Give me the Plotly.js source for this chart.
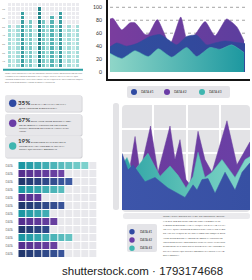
<!DOCTYPE html>
<html><head><meta charset="utf-8">
<script src="https://cdn.plot.ly/plotly-3.0.1.min.js"></script>
<style>html,body{margin:0;padding:0;background:#fff}#chart{width:252px;height:280px}</style>
</head><body><div id="chart"></div>
<script>
// ---------------- DATA ----------------
const gridColumns = [0,1,2,3,4,5,6,7,8,9,10,11,12,13,14,15,16];
const gridRows = [0,1,2,3,4,5,6,7,8,9,10,11,12,13,14];
const gridHeights = [10,9,10,13,10,11,9,14,11,10,12,10,13,9,10,9,10];
const gridTickVals = [1,3,5,7,9,11,13];
const gridTickText = ['10','20','30','40','50','60','70'];

const seriesNames = ['DATA #1','DATA #2','DATA #3'];

// top-right area chart (DATA #1 blue, DATA #2 purple, DATA #3 teal)
const areaX1 = [0,5,12.3,19.8,29.6,37,43.2,49.4,56.8,64.2,71.6,77.8,85.2,92.6,100];
const areaY1 = [39,45,40,44,55,58,50,42,55,57,42,45,48,46,44];
const areaX2 = [0,2.2,8.7,14.8,18.5,25.9,28.4,35.0,44.4,52.4,57.3,63.0,70.4,77.8,86.4,93.9,99.3];
const areaY2 = [82,83,65,76,76,58,58,81,43,85,49,58,78,56,82,70,48];
const areaX3 = [0,8.7,18.5,28.4,35.8,45.7,56.8,64.2,74.1,81.5,90.1,99.3];
const areaY3 = [29,21,33,24,36,23,38,24,38,35,42,30];
const areaTicks = [0,20,40,60,80,100];

// middle-right spiky chart
const spikeX1 = [0,4.7,8.6,18,25.8,35.9,49.2,55.5,58.6,62.5,67.2,72.7,80.5,88.3,93.8,100];
const spikeY1 = [54,38,43,27,31,21,12,24,19,29,30,16,36,19,36,45];
const spikeX2 = [0,5.5,10.2,14.1,22.3,28.1,37.5,41.4,45.3,50,53.1,59.4,64.8,70.3,82,89.8,100];
const spikeY2 = [48,36,70,36,80,36,80,48,67,29,24,75,48,36,85,43,65];
const spikeX3 = [0,3.9,8.6,20.3,29.7,37.5,43.8,50,55.5,59.4,64.8,70.3,78.1,88.3,96.1,100];
const spikeY3 = [43,50,36,54,32,42,33,21,32,55,31,36,48,31,48,51];

// bottom-left horizontal cell bars
const barLabels = ['DATA','DATA','DATA','DATA','DATA','DATA','DATA','DATA','DATA','DATA','DATA','DATA'];
const barSeries = [2,1,0,2,1,0,2,1,0,2,1,0]; // 0 = DATA #1 navy, 1 = DATA #2 purple, 2 = DATA #3 teal
const barLengths = [9,6,7,6,3,6,4,5,4,7,5,6];
const barSteps = [0,1,2,3,4,5,6,7,8,9];

// info boxes
const infoPercents = ['35%','67%','19%'];
const infoFirstLines = ['UT ENIM AD MINIM VENIAM,','DUIS AUTE IRURE DOLOR IN REP-','EXCEPTEUR SINT OCCAECAT'];
const infoMoreLines = [
  ['QUIS NOSTRUD EXERCITATION'],
  ['REHENDERIT IN VOLUPTATE VELIT ESSE','CILLUM DOLORE EU FUGIAT NULLA PARI-','ATUR.'],
  ['CUPIDATAT NON PROIDENT, SUNT IN','CULPA QUI OFFICIA DESERUNT']
];
const topLorem = [
  'LOREM IPSUM DOLOR SIT AMET, CONSECTETUR ADIPISCING ELIT, SED DO EIUSMOD TEMPOR',
  'INCIDIDUNT UT LABORE ET DOLORE MAGNA ALIQUA. UT ENIM AD MINIM VENIAM, QUIS',
  'NOSTRUD EXERCITATION ULLAMCO LABORIS NISI UT ALIQUIP EX EA COMMODO CONSEQUAT.',
  'DUIS AUTE IRURE DOLOR IN REPREHENDERIT IN VOLUPTATE'
];
const bottomLorem = [
  'LOREM IPSUM DOLOR SIT AMET, CONSECTETUR ADIPISC-',
  'ING ELIT, SED DO EIUSMOD TEMPOR INCIDIDUNT UT',
  'LABORE ET DOLORE MAGNA ALIQUA. UT ENIM AD MINIM',
  'VENIAM, QUIS NOSTRUD EXERCITATION ULLAMCO LABO-',
  'RIS NISI UT ALIQUIP EX EA COMMODO CONSEQUAT. DUIS',
  'AUTE IRURE DOLOR IN REPREHENDERIT IN VOLUPTATE',
  'VELIT ESSE CILLUM DOLORE EU FUGIAT NULLA PARIATUR.',
  'EXCEPTEUR SINT OCCAECAT CUPIDATAT NON PROIDENT,',
  'SUNT IN CULPA QUI OFFICIA DESERUNT MOLLIT ANIM ID',
  'EST LABORUM.'
];
const watermark = 'shutterstock.com · 1793174668';

// ---------------- STYLE / HELPERS ----------------
const W = 252, H = 280;
const X = p => p / W, Y = p => 1 - p / H;
const BLUE = '#2f4aa2', PURPLE = '#6a3ca6', TEAL = '#3fb6b0';
const seriesColors = [BLUE, PURPLE, TEAL];

function hex2rgb(h){return [1,3,5].map(i=>parseInt(h.substr(i,2),16));}
function mix(a,b,t){const A=hex2rgb(a),B=hex2rgb(b);return 'rgb('+A.map((v,i)=>Math.round(v+(B[i]-v)*t)).join(',')+')';}

function rr(x0,y0,x1,y1,r,fill,layer){
  const p = `M ${X(x0+r)},${Y(y0)} L ${X(x1-r)},${Y(y0)} Q ${X(x1)},${Y(y0)} ${X(x1)},${Y(y0+r)} L ${X(x1)},${Y(y1-r)} Q ${X(x1)},${Y(y1)} ${X(x1-r)},${Y(y1)} L ${X(x0+r)},${Y(y1)} Q ${X(x0)},${Y(y1)} ${X(x0)},${Y(y1-r)} L ${X(x0)},${Y(y0+r)} Q ${X(x0)},${Y(y0)} ${X(x0+r)},${Y(y0)} Z`;
  return {type:'path', xref:'paper', yref:'paper', path:p, fillcolor:fill, line:{width:0}, layer:layer||'above'};
}
function circ(cx,cy,r,fill){
  return {type:'circle', xref:'paper', yref:'paper', x0:X(cx-r), x1:X(cx+r), y0:Y(cy+r), y1:Y(cy-r), fillcolor:fill, line:{width:0}};
}
function txt(px,py,text,size,color,opts){
  opts = opts||{};
  return {xref:'paper', yref:'paper', x:X(px), y:Y(py), text:text, showarrow:false,
    xanchor:opts.xanchor||'left', yanchor:'middle', borderpad:0,
    font:{size:size, color:color, family:opts.family||'Lato, "Open Sans", sans-serif', weight:opts.weight||'normal'}};
}

// ---------------- TRACES ----------------
const traces = [];

// top-left cell grid
const gridZ = gridRows.map(r => gridColumns.map((c,i) => r < gridHeights[i] ? gridHeights[i] : 0));
traces.push({type:'heatmap', x:gridColumns, y:gridRows, z:gridZ, zmin:0, zmax:15, showscale:false,
  xgap:1, ygap:1, hoverinfo:'skip', xaxis:'x', yaxis:'y',
  colorscale:[[0,'#ebebef'],[0.55,'#ebebef'],[0.56,'#d3f0ee'],[0.6,'#c3eae7'],[0.667,'#a3dcd9'],[0.733,'#79c8c5'],[0.8,'#55b4b4'],[0.867,'#3a9ea1'],[0.933,'#23868a'],[1,'#1a7074']]});

// top-right areas
const areaSpecs = [
  {x:areaX2, y:areaY2, color:'#6b3c9e', grad:[[0,'#7a3d9e'],[1,'#5c3e9e']], name:seriesNames[1]},
  {x:areaX1, y:areaY1, color:'#33489c', grad:[[0,'#2f4f9f'],[1,'#34459a']], name:seriesNames[0]},
  {x:areaX3, y:areaY3, color:'#4fb8b0', grad:[[0,'#8fd6c8'],[1,'#1d98a0']], name:seriesNames[2]}
];
areaSpecs.forEach(s => traces.push({type:'scatter', x:s.x, y:s.y, name:s.name, mode:'lines',
  line:{shape:'spline', smoothing:0.55, width:0.5, color:s.color}, fill:'tozeroy', fillcolor:s.color,
  fillgradient:{type:'horizontal', colorscale:s.grad}, hoverinfo:'skip', xaxis:'x2', yaxis:'y2'}));

// middle-right spiky areas
const spikeSpecs = [
  {x:spikeX2, y:spikeY2, color:'#6a3c9f', grad:[[0,'#6c3a9c'],[1,'#6a40a6']], name:seriesNames[1]},
  {x:spikeX3, y:spikeY3, color:'#58bfb5', grad:[[0,'#2ea3a6'],[0.5,'#5cc1b6'],[1,'#82d6c9']], name:seriesNames[2]},
  {x:spikeX1, y:spikeY1, color:'#3a52a6', grad:[[0,'#3d55aa'],[1,'#3750a3']], name:seriesNames[0]}
];
spikeSpecs.forEach(s => traces.push({type:'scatter', x:s.x, y:s.y, name:s.name, mode:'lines',
  line:{shape:'linear', width:0.5, color:s.color}, fill:'tozeroy', fillcolor:s.color,
  fillgradient:{type:'horizontal', colorscale:s.grad}, hoverinfo:'skip', xaxis:'x3', yaxis:'y3'}));

// bottom-left cell bars
const barEnds = [['#22386e','#4a69bb'],['#55308f','#8054b6'],['#1c97a3','#88d8d2']];
const barScale = [[0,'#e8e8ec']];
for (let s=0;s<3;s++) for (let k=0;k<10;k++) barScale.push([(s*10+k+1)/30, mix(barEnds[s][0], barEnds[s][1], k/9)]);
const barRows = barLabels.map((_,i)=>i);
const barZ = barRows.map(r => barSteps.map(c => c < barLengths[r] ? barSeries[r]*10 + c + 1 : 0));
traces.push({type:'heatmap', x:barSteps, y:barRows, z:barZ, zmin:0, zmax:30, colorscale:barScale,
  showscale:false, xgap:1, ygap:1, hoverinfo:'skip', xaxis:'x4', yaxis:'y4'});

// ---------------- SHAPES ----------------
const shapes = [];
shapes.push({type:'line', xref:'paper', yref:'paper', x0:X(3), x1:X(83), y0:Y(69.7), y1:Y(69.7), line:{color:'#2a9fa2', width:2}});
areaTicks.filter(v=>v>0).forEach(v => shapes.push({type:'line', xref:'x2', yref:'y2', x0:0, x1:100, y0:v, y1:v,
  line:{color:'#9a9a9a', width:0.9, dash:'dot'}, layer:'below'}));

// info boxes
const boxes = [[95,111.7],[114,135.7],[136.7,157.7]];
const circY = [103.3,123.3,146];
boxes.forEach((b,i) => {
  shapes.push(rr(5.5,b[0]+0.8,82.5,b[1]+0.8,2,'#cfcfd4'));
  shapes.push(rr(5,b[0],81.7,b[1],2,'#e7e7ea'));
  shapes.push(circ(12.7,circY[i],3.7,seriesColors[i]));
});

// middle-right panel
shapes.push(rr(113,103,119,210,2.5,'#e3e3e6','below'));
shapes.push(rr(122,105,250,212,4,'#e3e3e6','below'));
shapes.push(rr(123,213,250,219,2.5,'#eaeaed','below'));

// legends
shapes.push(rr(127,86,230,98,2,'#e4e4e8'));
[134,167,202].forEach((cx,i)=>shapes.push(circ(cx,92,3,seriesColors[i])));
shapes.push(rr(127,224,157,252,2,'#e4e4e8'));
[231.7,240,248.3].forEach((cy,i)=>shapes.push(circ(132,cy,2.7,seriesColors[i])));

// ---------------- ANNOTATIONS ----------------
const ann = [];
topLorem.forEach((l,i)=>ann.push(txt(3.5,73.3+i*3,l,1.75,'#777')));
const pctY = [102.6,119,140];
const firstY = [104.2,120.8,141.6];
const moreY = [[108.2],[124.8,128.1,131.4],[145.6,149]];
infoPercents.forEach((p,i)=>{
  ann.push(txt(16.8,pctY[i],p,6.2,'#333',{weight:'bold'}));
  ann.push(txt(30.2,firstY[i],infoFirstLines[i],2.6,'#444'));
  infoMoreLines[i].forEach((l,j)=>ann.push(txt(17.5,moreY[i][j],l,2.6,'#444')));
});
[140,173,208].forEach((x,i)=>ann.push(txt(x,92.2,seriesNames[i],3.2,'#333')));
[231.7,240,248.3].forEach((y,i)=>ann.push(txt(138.5,y,seriesNames[i],3.1,'#333')));
bottomLorem.forEach((l,i)=>ann.push(txt(161.7,216.7+i*4.3,l,2.3,'#555')));
ann.push(txt(142.5,271,watermark,11.5,'#222',{xanchor:'center', family:'"Liberation Sans", Arial, sans-serif'}));

// ---------------- LAYOUT ----------------
const noAx = {showgrid:false, zeroline:false, showticklabels:false, ticks:'', showline:false, fixedrange:true};
const layout = {
  width:W, height:H, margin:{l:0,r:0,t:0,b:0}, paper_bgcolor:'#ffffff', plot_bgcolor:'rgba(0,0,0,0)',
  showlegend:false, hovermode:false, font:{family:'Lato, sans-serif'},
  xaxis:Object.assign({}, noAx, {domain:[X(8),X(80)], anchor:'y'}),
  yaxis:Object.assign({}, noAx, {domain:[Y(68),Y(3)], anchor:'x', showticklabels:true, tickvals:gridTickVals, ticktext:gridTickText,
    tickfont:{size:2.6,color:'#888'}, ticks:'outside', ticklen:1.5, tickcolor:'rgba(0,0,0,0)'}),
  xaxis2:Object.assign({}, noAx, {domain:[X(108),X(250)], anchor:'y2', range:[-1.5,103.7], showline:true, linecolor:'#151515', linewidth:2}),
  yaxis2:Object.assign({}, noAx, {domain:[Y(79),1], anchor:'x2', range:[-10.8,111.3], showline:true, linecolor:'#151515', linewidth:2,
    showticklabels:true, tickvals:areaTicks, tickfont:{size:5.2,color:'#333'}, ticks:'outside', ticklen:3, tickcolor:'rgba(0,0,0,0)'}),
  xaxis3:Object.assign({}, noAx, {domain:[X(122),X(250)], anchor:'y3', range:[0,100], showgrid:true, gridcolor:'#ffffff', gridwidth:1.5, tickvals:[24.2,50.8,76.6]}),
  yaxis3:Object.assign({}, noAx, {domain:[Y(210),Y(105)], anchor:'x3', range:[0,100], showgrid:true, gridcolor:'#ffffff', gridwidth:1.5, tickvals:[77.1,54.3]}),
  xaxis4:Object.assign({}, noAx, {domain:[X(18.3),X(97.3)], anchor:'y4', range:[-0.5,9.5]}),
  yaxis4:Object.assign({}, noAx, {domain:[Y(258),Y(162)], anchor:'x4', autorange:'reversed', showticklabels:true,
    tickvals:barRows, ticktext:barLabels, tickfont:{size:2.8,color:'#777'}, ticks:'outside', ticklen:4, tickcolor:'rgba(0,0,0,0)'}),
  shapes:shapes, annotations:ann
};

Plotly.newPlot('chart', traces, layout, {staticPlot:true, displayModeBar:false});
</script></body></html>
